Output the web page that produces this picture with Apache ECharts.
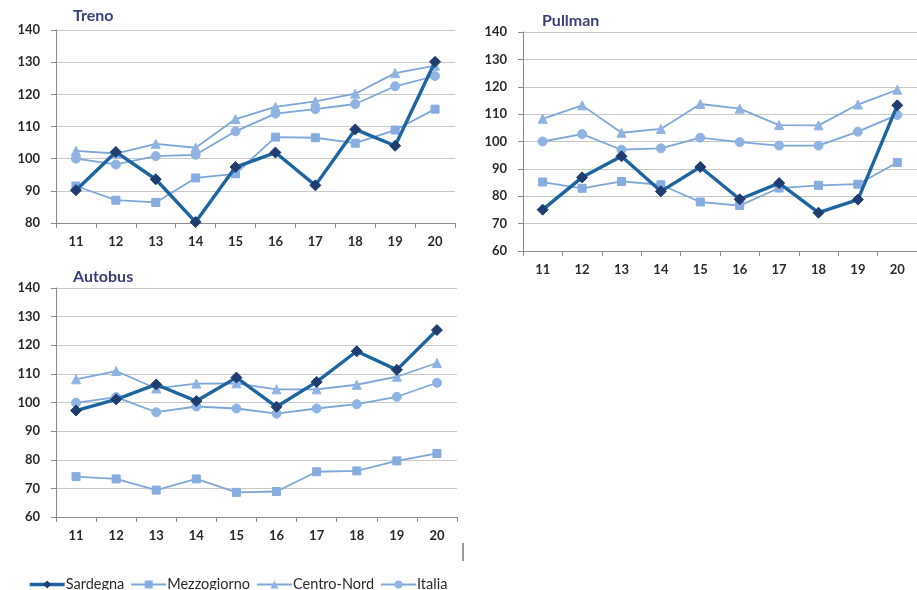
<!DOCTYPE html>
<html>
<head>
<meta charset="utf-8">
<script src="https://cdn.jsdelivr.net/npm/echarts@6/dist/echarts.min.js"></script>
<style>
html,body{margin:0;padding:0;background:#fff;}
#c{width:917px;height:590px;}
</style>
</head>
<body>
<div id="c"></div>
<script>
const categories = ['11','12','13','14','15','16','17','18','19','20'];
const seriesNames = ['Sardegna','Mezzogiorno','Centro-Nord','Italia'];
const panelTitles = ['Treno','Pullman','Autobus'];

const trenoSardegna    = [90.2,102.1,93.6,80.3,97.4,101.9,91.7,109.1,104.0,130.1];
const trenoMezzogiorno = [91.5,87.1,86.4,94.0,95.3,106.7,106.5,104.8,108.9,115.4];
const trenoCentroNord  = [102.4,101.6,104.6,103.4,112.3,116.1,117.8,120.2,126.6,128.9];
const trenoItalia      = [100.0,98.2,100.8,101.2,108.5,114.0,115.4,117.0,122.5,125.7];

const pullmanSardegna    = [75.1,86.9,94.6,81.8,90.7,78.9,84.8,74.0,78.8,113.2];
const pullmanMezzogiorno = [85.2,82.9,85.4,84.2,77.9,76.6,83.0,84.0,84.4,92.3];
const pullmanCentroNord  = [108.3,113.2,103.2,104.6,113.7,112.0,106.0,105.9,113.5,118.9];
const pullmanItalia      = [100.0,102.7,97.0,97.5,101.4,99.8,98.5,98.5,103.6,109.7];

const autobusSardegna    = [97.2,101.1,106.3,100.5,108.7,98.5,107.2,117.9,111.4,125.3];
const autobusMezzogiorno = [74.1,73.3,69.4,73.3,68.6,68.9,75.8,76.1,79.6,82.2];
const autobusCentroNord  = [108.1,111.0,104.9,106.6,106.7,104.6,104.6,106.2,109.0,113.8];
const autobusItalia      = [99.9,101.9,96.6,98.6,97.9,96.1,97.9,99.4,102.0,106.9];

const yMin = [80, 60, 60];
const yMax = [140, 140, 140];
const yStep = 10;

const panelData = [
  [trenoSardegna, trenoMezzogiorno, trenoCentroNord, trenoItalia],
  [pullmanSardegna, pullmanMezzogiorno, pullmanCentroNord, pullmanItalia],
  [autobusSardegna, autobusMezzogiorno, autobusCentroNord, autobusItalia]
];

const font = 'Lato, "Open Sans", sans-serif';
const grids = [
  {left:56, right:462, top:30, bottom:367},
  {left:523, right:-8, top:32, bottom:339},
  {left:56, right:460, top:288, bottom:73}
];
const titlePos = [{left:73,top:8},{left:542,top:13},{left:73,top:269}];

const styles = [
  {symbol:'diamond', symbolSize:11, lineColor:'#1d65a0', markColor:'#1f3d70', width:3.4},
  {symbol:'rect', symbolSize:8, lineColor:'#7ea7d8', markColor:'#86ace0', width:1.8},
  {symbol:'triangle', symbolSize:9, lineColor:'#7ea7d8', markColor:'#8fb4e3', width:1.8},
  {symbol:'circle', symbolSize:9, lineColor:'#7ea7d8', markColor:'#8fb4e3', width:1.8}
];

const xAxes = grids.map((g,i)=>({
  type:'category', gridIndex:i, data:categories, boundaryGap:true,
  axisLine:{lineStyle:{color:'#8c8c8c',width:1}},
  axisTick:{show:true, length:5, lineStyle:{color:'#8c8c8c'}},
  axisLabel:{color:'#2a2a2a', fontSize:13, fontWeight:'bold', fontFamily:font, margin:12},
  splitLine:{show:false}
}));
const yAxes = grids.map((g,i)=>({
  type:'value', gridIndex:i, min:yMin[i], max:yMax[i], interval:yStep,
  axisLine:{show:true, lineStyle:{color:'#8c8c8c',width:1}},
  axisTick:{show:true, length:5, lineStyle:{color:'#8c8c8c'}},
  axisLabel:{color:'#2a2a2a', fontSize:13, fontWeight:'bold', fontFamily:font, margin:16},
  splitLine:{show:true, lineStyle:{color:'#c8c8c8', width:1}}
}));

const series = [];
panelData.forEach((arrs, p)=>{
  [1,2,3,0].forEach(k=>{
    const s = styles[k];
    series.push({
      name: seriesNames[k], type:'line', xAxisIndex:p, yAxisIndex:p,
      data: arrs[k], symbol:s.symbol, symbolSize:s.symbolSize, showSymbol:true,
      lineStyle:{color:s.lineColor, width:s.width},
      itemStyle:{color:s.markColor, borderColor:s.markColor},
      z: k===0 ? 5 : 3, animation:false
    });
  });
});

const chart = echarts.init(document.getElementById('c'), null, {renderer:'canvas'});
chart.setOption({
  backgroundColor:'#fff',
  animation:false,
  title: panelTitles.map((t,i)=>({text:t, left:titlePos[i].left, top:titlePos[i].top, padding:0,
    textStyle:{fontFamily:font, fontSize:16, fontWeight:'bold', color:'#3a3f7a'}})),
  grid: grids,
  xAxis: xAxes,
  yAxis: yAxes,
  legend:{
    data: seriesNames, left:28, top:577, padding:0, itemWidth:35, itemHeight:10, itemGap:6,
    lineStyle:{width:'inherit'},
    textStyle:{fontFamily:font, fontSize:14.5, color:'#2a2a2a', padding:[0,0,0,-4]},
    selectedMode:false
  },
  graphic:[{type:'line', shape:{x1:463,y1:543,x2:463,y2:561}, style:{stroke:'#555', lineWidth:1.2}}],
  series: series
});
</script>
</body>
</html>
